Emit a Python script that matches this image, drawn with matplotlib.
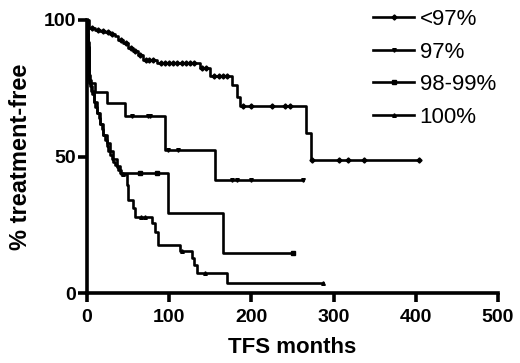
import matplotlib
matplotlib.use("Agg")
import matplotlib.pyplot as plt
from matplotlib.lines import Line2D

plt.rcParams['font.family'] = ['Liberation Sans', 'DejaVu Sans']

labels = ["<97%", "97%", "98-99%", "100%"]
markers = ["D", "v", "s", "^"]

# step curves (time in months, % treatment-free after event)
lt97_t = [0, 3, 10, 16, 22, 28, 34, 38, 44, 50, 56, 62, 68, 85, 137, 150, 176, 182, 186, 266, 272]
lt97_s = [100, 97, 96.5, 96, 95.7, 95, 94, 92.7, 91.5, 89.7, 88.5, 87.2, 85.3, 84.1, 82.3, 79.5, 76.2, 71.8, 68.5, 58.5, 48.7]
lt97_end = 404
lt97_cens = [6, 13, 19, 25, 31, 41, 47, 53, 59, 65, 72, 76, 80, 90, 95, 100, 105, 110, 115, 120, 125, 130,
             140, 145, 155, 160, 165, 170, 190, 200, 225, 241, 247, 274, 306, 317, 337, 404]

p97_t = [0, 1, 2, 3, 10, 24, 46, 95, 156]
p97_s = [100, 92, 86, 77, 73.6, 69.6, 64.8, 52.2, 41.4]
p97_end = 263
p97_cens = [55, 74, 77, 99, 111, 176, 182, 199, 263]

p98_t = [0, 1, 2, 3, 5, 8, 12, 16, 20, 24, 28, 32, 36, 40, 98, 165]
p98_s = [100, 90, 84, 78, 74, 70, 66, 62, 58, 55, 52, 49, 46.5, 44, 29.3, 14.6]
p98_end = 251
p98_cens = [64, 85, 251]

p100_t = [0, 0.5, 1, 2, 3, 4, 6, 8, 10, 12, 14, 16, 18, 20, 22, 24, 26, 28, 30, 32, 34, 36, 38, 41,
          49, 50, 56, 58, 79, 83, 86, 113, 128, 130, 134, 170]
p100_s = [100, 95, 90, 85, 80, 76, 73, 70, 68, 66, 64, 62, 60, 58, 56, 54, 52, 50.5, 49, 48, 47, 46, 45, 43.6,
          39.5, 34, 31, 28, 25.6, 22.3, 17.6, 15.4, 12.8, 10.3, 7.3, 3.7]
p100_end = 287
p100_cens = [44, 66, 70, 116, 144, 287]

curves = [
    (lt97_t, lt97_s, lt97_end, lt97_cens),
    (p97_t, p97_s, p97_end, p97_cens),
    (p98_t, p98_s, p98_end, p98_cens),
    (p100_t, p100_s, p100_end, p100_cens),
]

x_ticks = [0, 100, 200, 300, 400, 500]
y_ticks = [0, 50, 100]

fig = plt.figure(figsize=(5.2, 3.63), dpi=100)
ax = fig.add_axes([87/520, 1 - 293/363, (498 - 87)/520, (293 - 20)/363])

def surv_at(t, s, x):
    val = s[0]
    for ti, si in zip(t, s):
        if ti <= x:
            val = si
    return val

for (t, s, end, cens), m in zip(curves, markers):
    tt = list(t) + [end]
    ss = list(s) + [s[-1]]
    ax.plot(tt, ss, drawstyle='steps-post', color='black', lw=1.9, clip_on=False, zorder=3)
    cy = [surv_at(t, s, c) for c in cens]
    ax.plot(cens, cy, ls='none', marker=m, ms=2.6, color='black', clip_on=False, zorder=4)

ax.set_xlim(0, 500)
ax.set_ylim(0, 100)
ax.set_xticks(x_ticks)
ax.set_yticks(y_ticks)
ax.set_xticklabels([str(v) for v in x_ticks], fontsize=14, fontweight='bold')
ax.set_yticklabels([str(v) for v in y_ticks], fontsize=14, fontweight='bold')
for side in ['top', 'right']:
    ax.spines[side].set_visible(False)
for side in ['left', 'bottom']:
    ax.spines[side].set_linewidth(2.6)
ax.tick_params(axis='both', width=2.6, length=6.5, direction='out')
ax.tick_params(axis='x', pad=5)
ax.tick_params(axis='y', pad=1.5)

ax.set_xlabel("TFS months", fontsize=16, fontweight='bold', labelpad=8)
ax.set_ylabel("% treatment-free", fontsize=17, fontweight='bold', labelpad=8)

handles = [Line2D([0], [0], color='black', lw=1.9, marker=m, ms=2.6) for m in markers]
fig.legend(handles, labels, loc='upper left', bbox_to_anchor=(373/520, 1 - 9/363),
           frameon=False, fontsize=16, handlelength=1.85, handletextpad=0.25,
           labelspacing=0.52, borderaxespad=0, borderpad=0)

fig.savefig("out.png", dpi=100)
